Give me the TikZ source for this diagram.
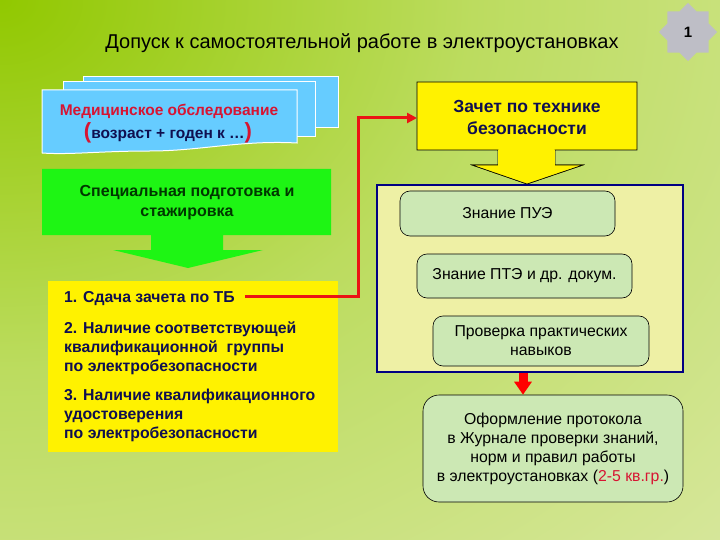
\documentclass[tikz,border=0pt]{standalone}
\usepackage{fontspec}
\setmainfont{Liberation Sans}
\usetikzlibrary{shapes.geometric,arrows.meta}
\definecolor{bgA}{RGB}{145,200,0}
\definecolor{bgB}{RGB}{188,220,95}
\definecolor{bgC}{RGB}{220,233,168}
\definecolor{skyblue}{RGB}{102,204,255}
\definecolor{medred}{RGB}{215,20,50}
\definecolor{navy}{RGB}{15,15,80}
\definecolor{brightgreen}{RGB}{30,245,20}
\definecolor{darkgreen}{RGB}{0,55,0}
\definecolor{panelfill}{RGB}{238,240,165}
\definecolor{panelline}{RGB}{0,0,130}
\definecolor{mint}{RGB}{204,232,180}
\definecolor{badgegray}{RGB}{190,190,198}
\definecolor{connred}{RGB}{235,20,20}
\pgfdeclareradialshading{bgshade}{\pgfpoint{0bp}{0bp}}{color(0bp)=(bgA); color(16bp)=(bgB); color(38bp)=(bgC); color(50bp)=(bgC)}
\tikzset{
  titletext/.style={font=\fontsize{20}{24}\selectfont, text=black, inner sep=0},
  boldtext/.style={font=\bfseries\fontsize{15.8}{19}\selectfont, text=navy, inner sep=0, align=left},
  roundbox/.style={draw=black, line width=0.6pt, fill=mint, rounded corners=10pt, align=center,
     font=\fontsize{15.8}{19}\selectfont, text=black, inner sep=0},
  conn/.style={draw=connred, line width=3pt, -{Triangle[length=10pt,width=10pt]}},
  blockarrow/.style={draw=red, line width=9pt, -{Triangle[length=13pt,width=17pt]}},
}
\begin{document}
\begin{tikzpicture}[x=1pt,y=-1pt]
\useasboundingbox (0,0) rectangle (720,540);
\fill[bgC] (0,0) rectangle (720,540);
\begin{scope}
  \clip (0,0) rectangle (720,540);
  \shade[shading=bgshade] (-740,-580) rectangle (740,580);
\end{scope}

% title
\node[titletext] (title) at (362,43) {Допуск к самостоятельной работе в электроустановках};

% badge
\node[star, star points=8, star point ratio=1.3, minimum size=58pt, fill=badgegray, inner sep=0,
      font=\bfseries\fontsize{15}{16}\selectfont] (badge) at (688,32) {1};

% stacked blue documents
\filldraw[fill=skyblue, draw=white, line width=1pt] (83,77) rectangle (338,128);
\filldraw[fill=skyblue, draw=white, line width=1pt] (63,82) rectangle (315,137);
\filldraw[fill=skyblue, draw=white, line width=1pt]
  (42,90) -- (297,90) -- (297,143) .. controls (240,140) and (200,151) .. (150,151)
  .. controls (100,151) and (70,155) .. (42,153) -- cycle;
\node[font=\bfseries\fontsize{15.5}{16}\selectfont, text=medred, inner sep=0] (med) at (169,111)
  {Медицинское обследование};
\node[font=\bfseries\fontsize{15.5}{16}\selectfont, text=navy, inner sep=0] (age) at (168,133)
  {{\color{medred}\fontsize{22}{22}\selectfont(}возраст + годен к …{\color{medred}\fontsize{22}{22}\selectfont)}};

% green callout
\fill[brightgreen] (42,169) -- (331,169) -- (331,235) -- (223,235) -- (223,250) -- (263,250)
  -- (188,268) -- (113,250) -- (151,250) -- (151,235) -- (42,235) -- cycle;
\node[font=\bfseries\fontsize{16}{20}\selectfont, text=darkgreen, align=center, inner sep=0] (prep) at (187,203)
  {Специальная подготовка и\\стажировка};

% yellow list box
\fill[yellow] (48,281) rectangle (338,452);
\node[boldtext, anchor=west] (tb) at (64,299) {1. Сдача зачета по ТБ};
\node[boldtext, anchor=west] (qual) at (64,348) {2. Наличие соответствующей\\квалификационной\ \ группы\\по электробезопасности};
\node[boldtext, anchor=west] (cert) at (64,415) {3. Наличие квалификационного\\удостоверения\\по электробезопасности};

% yellow callout (test)
\filldraw[fill=yellow, draw=black, line width=0.6pt]
  (417,82) -- (637,82) -- (637,150) -- (555,150) -- (555,165) -- (583,165) -- (527,184)
  -- (472,165) -- (498,165) -- (498,150) -- (417,150) -- cycle;
\node[font=\bfseries\fontsize{17.5}{22}\selectfont, text=navy, align=center, inner sep=0] (zachet) at (527,117)
  {Зачет по технике\\безопасности};
\coordinate (zin) at (417,118);
\coordinate (turn) at (358,118);

% red connector
\draw[conn] ([xshift=10pt,yshift=3pt]tb.east) -| (turn) -- (zin);

% panel
\node[draw=panelline, line width=2pt, fill=panelfill, minimum width=306pt, minimum height=187pt, inner sep=0]
  (panel) at (530,278.5) {};
% redraw yellow arrow tip above the panel border
\filldraw[fill=yellow, draw=black, line width=0.6pt]
  (555,165) -- (583,165) -- (527,184) -- (472,165) -- (498,165);
\fill[yellow] (498.3,150.3) rectangle (554.7,166);

\node[roundbox, minimum width=215pt, minimum height=45pt] (pue) at (507.5,213.5) {Знание ПУЭ};
\node[roundbox, minimum width=215pt, minimum height=44pt] (pte) at (524.5,276) {Знание ПТЭ и др. докум.};
\node[roundbox, minimum width=216pt, minimum height=50pt] (prov) at (541,341) {Проверка практических\\навыков};
\node[roundbox, rounded corners=16pt, minimum width=260pt, minimum height=107pt] (oform) at (553,448.5)
  {Оформление протокола\\в Журнале проверки знаний,\\норм и правил работы\\в электроустановках ({\color{medred}2-5 кв.гр.})};

% red block arrow
\coordinate (ra) at (523,373);
\draw[blockarrow] (ra) -- (ra |- oform.north);
\end{tikzpicture}
\end{document}
